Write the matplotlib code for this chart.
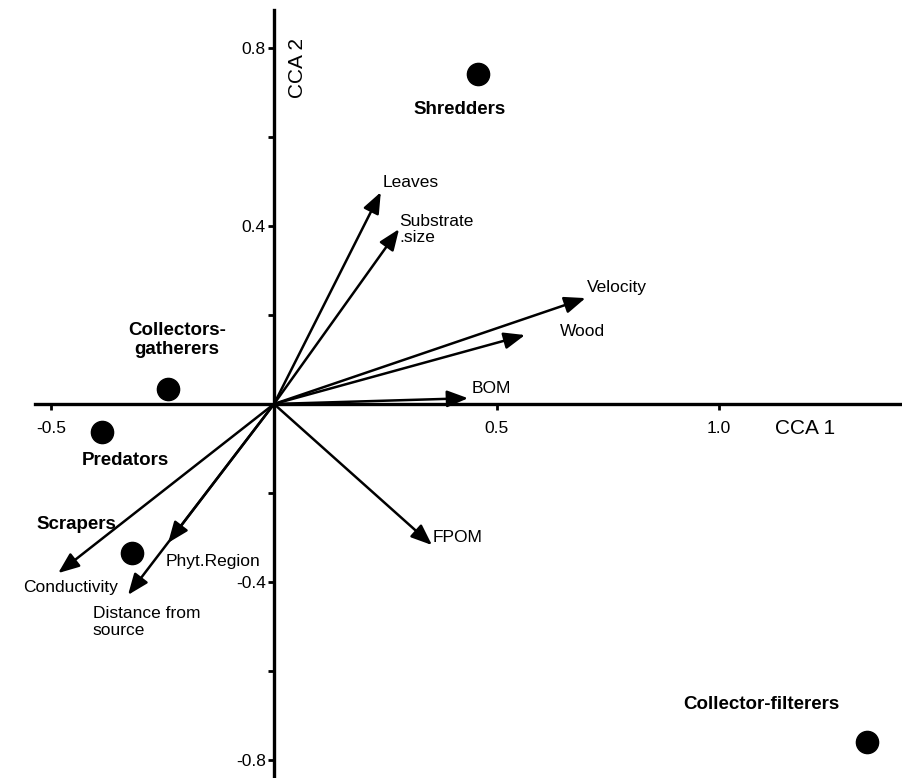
import matplotlib
matplotlib.use("Agg")
import matplotlib.pyplot as plt
from matplotlib.ticker import FixedLocator

plt.rcParams['font.family'] = ['Liberation Sans', 'DejaVu Sans']

# ---- data ----
groups = ["Shredders", "Collectors-\ngatherers", "Predators", "Scrapers", "Collector-filterers"]
group_x = [0.458, -0.238, -0.387, -0.319, 1.333]
group_y = [0.742, 0.034, -0.063, -0.335, -0.760]

env_vars = ["Leaves", "Substrate\n.size", "Velocity", "Wood", "BOM", "FPOM",
            "Conductivity", "Phyt.Region", "Distance from\nsource"]
env_x = [0.240, 0.281, 0.700, 0.564, 0.436, 0.355, -0.485, -0.238, -0.328]
env_y = [0.476, 0.393, 0.238, 0.155, 0.013, -0.317, -0.380, -0.312, -0.429]

xtick_vals = [-0.5, 0.5, 1.0]
xtick_labels = ["-0.5", "0.5", "1.0"]
ytick_vals = [-0.8, -0.4, 0.4, 0.8]
ytick_labels = ["-0.8", "-0.4", "0.4", "0.8"]
ytick_minor = [-0.6, -0.2, 0.2, 0.6]

# ---- layout (label placement, data units) ----
group_label_pos = [(0.416, 0.661, 'center'), (-0.218, 0.144, 'center'),
                   (-0.335, -0.126, 'center'), (-0.443, -0.270, 'center'),
                   (1.270, -0.676, 'right')]
env_label_pos = [(0.243, 0.497), (0.281, 0.393), (0.703, 0.261), (0.643, 0.162),
                 (0.445, 0.034), (0.357, -0.299), (-0.564, -0.413),
                 (-0.243, -0.355), (-0.407, -0.490)]

fig = plt.figure(figsize=(9.02, 7.78), dpi=100)
ax = fig.add_axes([0, 0, 1, 1])
ax.set_xlim(-274 / 445, (902 - 274) / 445)
ax.set_ylim((404 - 778) / 445, 404 / 445)

for s in ['top', 'right']:
    ax.spines[s].set_visible(False)
ax.spines['left'].set_position(('data', 0))
ax.spines['bottom'].set_position(('data', 0))
ax.spines['left'].set_linewidth(2.4)
ax.spines['bottom'].set_linewidth(2.4)
ax.spines['bottom'].set_bounds(-0.537, 1.407)
ax.spines['left'].set_bounds(-0.84, 0.885)

ax.xaxis.set_major_locator(FixedLocator(xtick_vals))
ax.set_xticklabels(xtick_labels)
ax.yaxis.set_major_locator(FixedLocator(ytick_vals))
ax.set_yticklabels(ytick_labels)
ax.yaxis.set_minor_locator(FixedLocator(ytick_minor))
ax.tick_params(axis='x', which='both', direction='out', length=4, width=2, pad=8, labelsize=12.5)
ax.tick_params(axis='y', which='both', direction='out', length=4, width=2, pad=2, labelsize=12.5)

# arrows
for name, ex, ey, (lx, ly) in zip(env_vars, env_x, env_y, env_label_pos):
    ax.annotate("", xy=(ex, ey), xytext=(0, 0),
                arrowprops=dict(arrowstyle='-|>,head_length=0.85,head_width=0.34',
                                mutation_scale=15, lw=1.8, color='black',
                                shrinkA=0, shrinkB=0))
    ax.text(lx, ly, name, fontsize=12.5, ha='left', va='center', linespacing=1.1)

# group points
ax.plot(group_x, group_y, 'o', color='black', markersize=16, linestyle='none')
for name, (lx, ly, ha) in zip(groups, group_label_pos):
    ax.text(lx, ly, name, fontsize=13.5, fontweight='bold', ha=ha, va='center',
            multialignment='center', linespacing=1.2)

ax.text(1.126, -0.056, "CCA 1", fontsize=15, ha='left', va='center')
ax.text(0.052, 0.755, "CCA 2", fontsize=15, ha='center', va='center', rotation=90)

fig.savefig("out.png", dpi=100)
